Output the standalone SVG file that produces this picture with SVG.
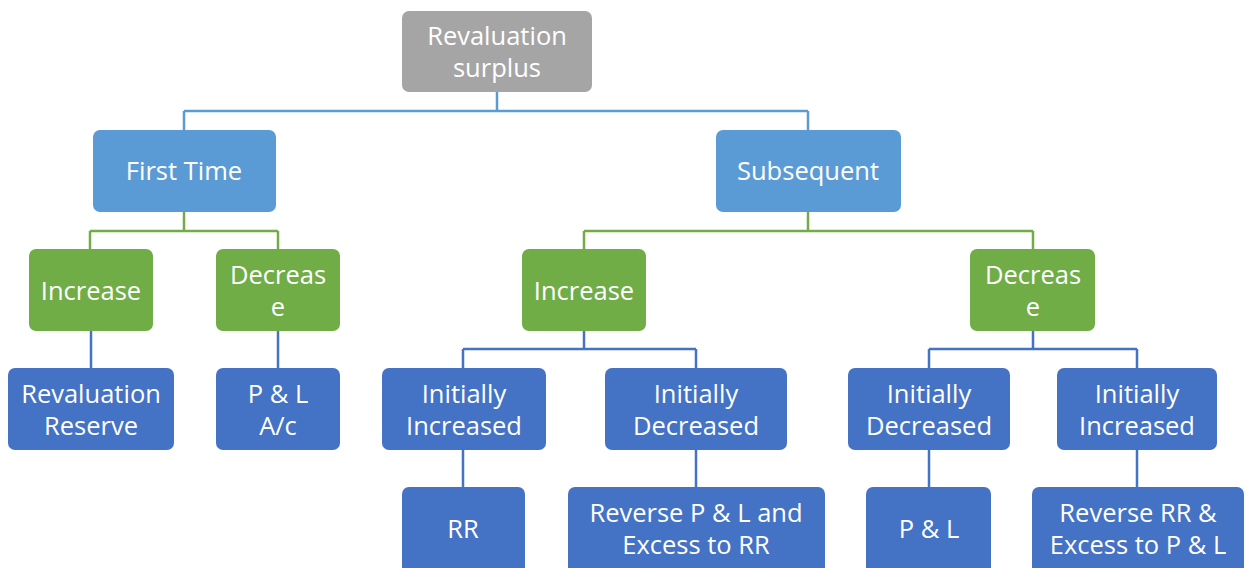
<svg xmlns="http://www.w3.org/2000/svg" width="1248" height="568" viewBox="0 0 1248 568">
  <style>
    .box { stroke: none; }
    .gray { fill: #A5A5A5; }
    .lblue { fill: #5B9BD5; }
    .green { fill: #70AD47; }
    .dblue { fill: #4472C4; }
    .lbl { font-family: "Open Sans", "Liberation Sans", sans-serif; font-size: 25.5px; fill: #FFFFFF; text-anchor: middle; dominant-baseline: central; }
    .c1 { fill: none; stroke: #5B9BD5; stroke-width: 2.5; }
    .c2 { fill: none; stroke: #70AD47; stroke-width: 2.5; }
    .c3 { fill: none; stroke: #4472C4; stroke-width: 2.5; }
  </style>
  <rect width="1248" height="568" fill="#FFFFFF"/>

  <g id="connectors">
    <path class="c1" d="M497 92 V111 M184 111 H808 M184 111 V130 M808 111 V130"/>
    <path class="c2" d="M184 212 V231 M90 231 H278 M90 231 V249 M278 231 V249"/>
    <path class="c2" d="M808 212 V231 M584 231 H1033 M584 231 V249 M1033 231 V249"/>
    <path class="c3" d="M91 331 V368 M278 331 V368"/>
    <path class="c3" d="M584 331 V349 M463 349 H696 M463 349 V368 M696 349 V368"/>
    <path class="c3" d="M1033 331 V349 M929 349 H1137 M929 349 V368 M1137 349 V368"/>
    <path class="c3" d="M463 450 V487 M696 450 V487 M929 450 V487 M1137 450 V487"/>
  </g>

  <g id="root">
    <rect class="box gray" x="402" y="11" width="190" height="81" rx="7"/>
    <text class="lbl" x="497" y="35">Revaluation</text>
    <text class="lbl" x="497" y="67">surplus</text>
  </g>

  <g id="first-time">
    <rect class="box lblue" x="93" y="130" width="183" height="82" rx="7"/>
    <text class="lbl" x="184" y="170">First Time</text>
  </g>
  <g id="subsequent">
    <rect class="box lblue" x="716" y="130" width="185" height="82" rx="7"/>
    <text class="lbl" x="808" y="170">Subsequent</text>
  </g>

  <g id="ft-increase">
    <rect class="box green" x="29" y="249" width="124" height="82" rx="7"/>
    <text class="lbl" x="91" y="290">Increase</text>
  </g>
  <g id="ft-decrease">
    <rect class="box green" x="216" y="249" width="124" height="82" rx="7"/>
    <text class="lbl" x="278" y="274">Decreas</text>
    <text class="lbl" x="278" y="306">e</text>
  </g>
  <g id="sub-increase">
    <rect class="box green" x="522" y="249" width="124" height="82" rx="7"/>
    <text class="lbl" x="584" y="290">Increase</text>
  </g>
  <g id="sub-decrease">
    <rect class="box green" x="970" y="249" width="125" height="82" rx="7"/>
    <text class="lbl" x="1033" y="274">Decreas</text>
    <text class="lbl" x="1033" y="306">e</text>
  </g>

  <g id="revaluation-reserve">
    <rect class="box dblue" x="8" y="368" width="166" height="82" rx="7"/>
    <text class="lbl" x="91" y="393">Revaluation</text>
    <text class="lbl" x="91" y="425">Reserve</text>
  </g>
  <g id="pl-ac">
    <rect class="box dblue" x="216" y="368" width="124" height="82" rx="7"/>
    <text class="lbl" x="278" y="393">P &amp; L</text>
    <text class="lbl" x="278" y="425">A/c</text>
  </g>
  <g id="inc-initially-increased">
    <rect class="box dblue" x="382" y="368" width="164" height="82" rx="7"/>
    <text class="lbl" x="464" y="393">Initially</text>
    <text class="lbl" x="464" y="425">Increased</text>
  </g>
  <g id="inc-initially-decreased">
    <rect class="box dblue" x="605" y="368" width="182" height="82" rx="7"/>
    <text class="lbl" x="696" y="393">Initially</text>
    <text class="lbl" x="696" y="425">Decreased</text>
  </g>
  <g id="dec-initially-decreased">
    <rect class="box dblue" x="848" y="368" width="162" height="82" rx="7"/>
    <text class="lbl" x="929" y="393">Initially</text>
    <text class="lbl" x="929" y="425">Decreased</text>
  </g>
  <g id="dec-initially-increased">
    <rect class="box dblue" x="1057" y="368" width="160" height="82" rx="7"/>
    <text class="lbl" x="1137" y="393">Initially</text>
    <text class="lbl" x="1137" y="425">Increased</text>
  </g>

  <g id="rr">
    <rect class="box dblue" x="402" y="487" width="123" height="90" rx="7"/>
    <text class="lbl" x="463" y="528">RR</text>
  </g>
  <g id="reverse-pl">
    <rect class="box dblue" x="568" y="487" width="257" height="90" rx="7"/>
    <text class="lbl" x="696" y="512">Reverse P &amp; L and</text>
    <text class="lbl" x="696" y="544">Excess to RR</text>
  </g>
  <g id="pl">
    <rect class="box dblue" x="866" y="487" width="125" height="90" rx="7"/>
    <text class="lbl" x="929" y="528">P &amp; L</text>
  </g>
  <g id="reverse-rr">
    <rect class="box dblue" x="1032" y="487" width="212" height="90" rx="7"/>
    <text class="lbl" x="1138" y="512">Reverse RR &amp;</text>
    <text class="lbl" x="1138" y="544">Excess to P &amp; L</text>
  </g>
</svg>
